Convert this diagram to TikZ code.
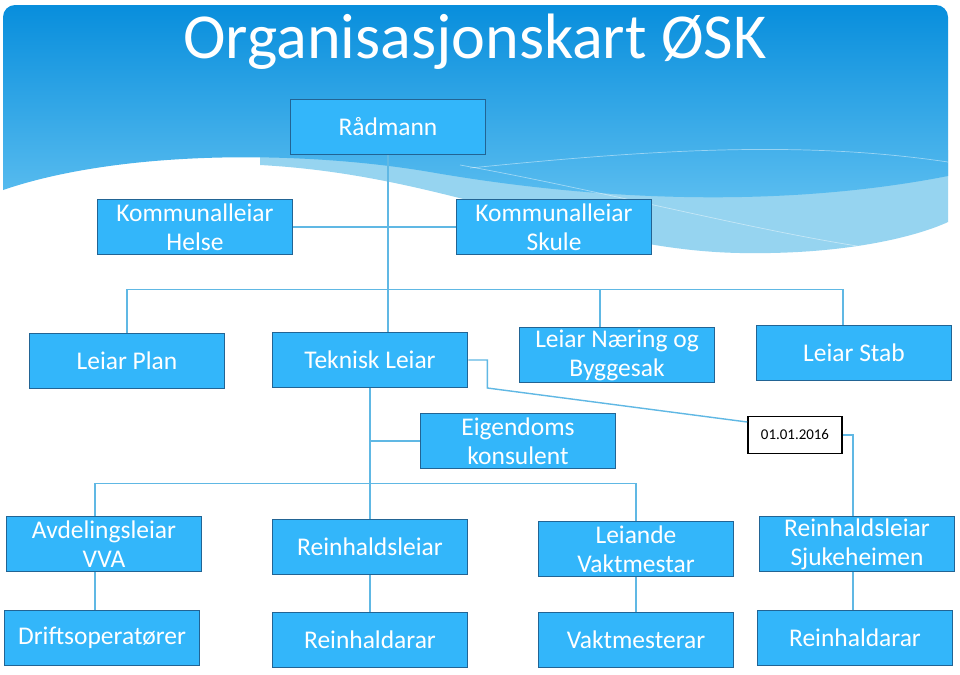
\documentclass[tikz,border=0pt]{standalone}
\usepackage{fontspec}
\setmainfont{Carlito}
\usetikzlibrary{positioning, calc}
\definecolor{skytop}{RGB}{8,142,220}
\definecolor{skybot}{RGB}{92,190,240}
\definecolor{wavelight}{RGB}{150,212,240}
\definecolor{boxfill}{RGB}{51,182,250}
\definecolor{boxedge}{RGB}{34,100,148}
\definecolor{linkblue}{RGB}{96,184,228}

\begin{document}
\begin{tikzpicture}[x=0.02cm, y=-0.02cm,
  unit/.style={draw=boxedge, line width=1pt, fill=boxfill, text=white,
    minimum width=3.9cm, minimum height=1.1cm, align=center, inner sep=1pt,
    font=\fontsize{14.5}{16.5}\selectfont},
  datebox/.style={draw=black, line width=0.9pt, fill=white, text=black,
    minimum width=1.88cm, minimum height=0.74cm, font=\fontsize{8.5}{10}\selectfont},
  link/.style={linkblue, line width=0.8pt}]

  % page and background waves
  \useasboundingbox (0,0) rectangle (960,674);
  \fill[white] (0,0) rectangle (960,674);
  \fill[wavelight] (260,165) .. controls (450,175) and (580,250) .. (740,253)
    .. controls (850,255) and (920,235) .. (948,222) -- (948,150) -- (260,150) -- cycle;
  \shade[top color=skytop, bottom color=skybot] (3,190) -- (3,17)
    arc[start angle=180, end angle=270, radius=12] -- (936,5)
    arc[start angle=270, end angle=360, radius=12] -- (948,176)
    .. controls (800,205) and (620,205) .. (430,172)
    .. controls (300,150) and (120,150) .. (3,190) -- cycle;
  \draw[white, opacity=0.45, line width=0.4pt] (470,168) .. controls (650,150) and (800,140) .. (948,162);
  \draw[white, opacity=0.45, line width=0.4pt] (460,165) .. controls (600,190) and (750,230) .. (870,248);

  % title
  \node[font=\fontsize{36.5}{44}\selectfont, text=white, anchor=base] (title) at (475,58) {Organisasjonskart ØSK};

  % top levels
  \node[unit] (radmann) at (388,127) {Rådmann};
  \node[unit] (helse) at (195,227) {Kommunalleiar\\Helse};
  \node[unit] (skule) at (554,227) {Kommunalleiar\\Skule};

  % leiarar
  \node[unit] (plan) at (127,361) {Leiar Plan};
  \node[unit] (tekn) at (370,360) {Teknisk Leiar};
  \node[unit] (naering) at (617,355) {Leiar Næring og\\Byggesak};
  \node[unit] (stab) at (854,353) {Leiar Stab};
  \node[unit] (eigen) at (518,441) {Eigendoms\\konsulent};
  \node[datebox] (date) at (795,435) {01.01.2016};

  % avdelingar
  \node[unit] (vva) at (104,544) {Avdelingsleiar\\VVA};
  \node[unit] (reinh) at (370,547) {Reinhaldsleiar};
  \node[unit] (leiande) at (636,549) {Leiande\\Vaktmestar};
  \node[unit] (sjuke) at (857,544) {Reinhaldsleiar\\Sjukeheimen};

  % tilsette
  \node[unit] (drift) at (102,638) {Driftsoperatører};
  \node[unit] (reinhA) at (370,640) {Reinhaldarar};
  \node[unit] (vakt) at (636,640) {Vaktmesterar};
  \node[unit] (reinhB) at (855,638) {Reinhaldarar};

  % connectors
  \draw[link] (radmann.south) -- (radmann.south |- tekn.north);
  \draw[link] (helse.east) -- (skule.west);
  \coordinate (stabtop) at ($(stab.north)+(-11,0)$);
  \draw[link] (plan.north) |- ($(stabtop)+(0,-35)$) -- (stabtop);
  \draw[link] ($(naering.north)+(-17,0)$) -- ++(0,-37);
  \draw[link] (tekn.east) -- ++(19,0) -- ++(0,28) -- ($(date.west)+(0,-13)$);
  \draw[link] (date.east) -| ($(sjuke.north)+(-4,0)$);
  \draw[link] (tekn.south) -- (reinh.north);
  \draw[link] (tekn.south |- eigen.west) -- (eigen.west);
  \draw[link] ($(vva.north)+(-9,0)$) |- ($(leiande.north)+(0,-37)$) -- (leiande.north);
  \draw[link] ($(vva.south)+(-9,0)$) -- ($(drift.north)+(-7,0)$);
  \draw[link] (reinh.south) -- (reinhA.north);
  \draw[link] (leiande.south) -- (vakt.north);
  \draw[link] ($(sjuke.south)+(-4,0)$) -- ($(reinhB.north)+(-2,0)$);
\end{tikzpicture}
\end{document}
